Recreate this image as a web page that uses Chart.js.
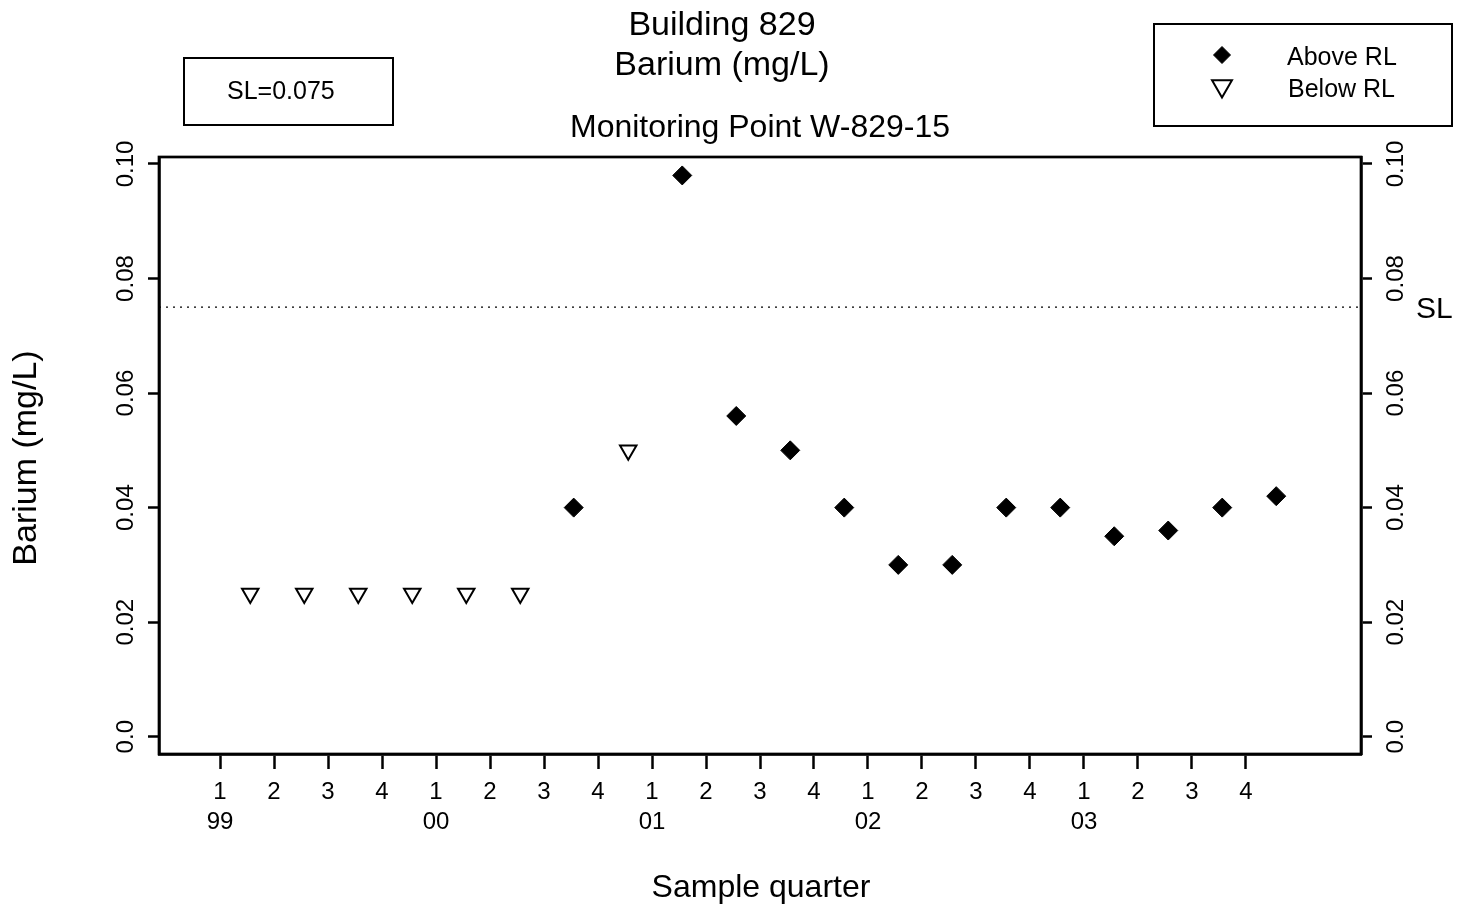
<!DOCTYPE html>
<html>
<head>
<meta charset="utf-8">
<title>Building 829 - Barium (mg/L)</title>
<script src="https://cdn.jsdelivr.net/npm/chart.js@4.4.0/dist/chart.umd.min.js"></script>
<style>
  html, body { margin: 0; padding: 0; background: #fff; }
  canvas { display: block; }
</style>
</head>
<body>
<canvas id="chart" width="1469" height="915"></canvas>
<script>
// x positions are in quarters, 0 = first quarter of 1999
const aboveX = [6.55, 8.56, 9.56, 10.56, 11.56, 12.56, 13.56, 14.56, 15.56, 16.56, 17.56, 18.56, 19.56];
const aboveValues = [0.040, 0.098, 0.056, 0.050, 0.040, 0.030, 0.030, 0.040, 0.040, 0.035, 0.036, 0.040, 0.042];
const belowX = [0.56, 1.56, 2.56, 3.56, 4.56, 5.56, 7.56];
const belowValues = [0.025, 0.025, 0.025, 0.025, 0.025, 0.025, 0.050];

const quarterTicks = [0, 1, 2, 3, 4, 5, 6, 7, 8, 9, 10, 11, 12, 13, 14, 15, 16, 17, 18, 19];
const quarterLabels = ['1', '2', '3', '4', '1', '2', '3', '4', '1', '2', '3', '4', '1', '2', '3', '4', '1', '2', '3', '4'];
const yearLabels = ['99', '', '', '', '00', '', '', '', '01', '', '', '', '02', '', '', '', '03', '', '', ''];
const yTicks = [0, 0.02, 0.04, 0.06, 0.08, 0.10];
const yTickLabels = ['0.0', '0.02', '0.04', '0.06', '0.08', '0.10'];
const slValue = 0.075;

const FONT = "'Liberation Sans', Arial, Helvetica, sans-serif";
function font(size) { return size + 'px ' + FONT; }

function rotatedText(ctx, text, x, y) {
    ctx.save();
    ctx.translate(x, y);
    ctx.rotate(-Math.PI / 2);
    ctx.fillText(text, 0, 0);
    ctx.restore();
}

function marker(ctx, ds, x, y, radius) {
    ctx.save();
    ctx.fillStyle = ds.pointBackgroundColor;
    ctx.strokeStyle = ds.pointBorderColor;
    ctx.lineWidth = ds.pointBorderWidth;
    Chart.helpers.drawPoint(ctx, {
        pointStyle: ds.pointStyle,
        rotation: ds.pointRotation,
        radius: radius,
        borderWidth: ds.pointBorderWidth
    }, x, y);
    ctx.restore();
}

const decorations = {
    id: 'decorations',
    beforeDatasetsDraw(chart) {
        const ctx = chart.ctx;
        const area = chart.chartArea;
        const py = chart.scales.y.getPixelForValue(slValue);
        ctx.save();
        ctx.strokeStyle = '#000';
        ctx.lineWidth = 1.2;
        ctx.setLineDash([2, 5]);
        ctx.beginPath();
        ctx.moveTo(area.left, py);
        ctx.lineTo(area.right, py);
        ctx.stroke();
        ctx.restore();
    },
    afterDraw(chart) {
        const ctx = chart.ctx;
        const area = chart.chartArea;
        const y = chart.scales.y;
        ctx.save();

        // plot frame
        ctx.strokeStyle = '#000';
        ctx.lineWidth = 2.7;
        ctx.strokeRect(area.left, area.top, area.right - area.left, area.bottom - area.top);

        ctx.fillStyle = '#000';

        // y tick labels, both sides, rotated
        ctx.font = font(24);
        ctx.textAlign = 'center';
        ctx.textBaseline = 'alphabetic';
        y.ticks.forEach((t, i) => {
            const py = y.getPixelForValue(t.value);
            rotatedText(ctx, yTickLabels[i], area.left - 26, py);
            rotatedText(ctx, yTickLabels[i], area.right + 42, py);
        });

        // titles
        ctx.font = font(34);
        ctx.fillText('Building 829', 722, 35);
        ctx.fillText('Barium (mg/L)', 722, 75);
        rotatedText(ctx, 'Barium (mg/L)', 36, 458);
        ctx.font = font(32);
        ctx.fillText('Monitoring Point W-829-15', 760, 137);
        ctx.fillText('Sample quarter', 761, 897);

        // SL label at the limit line
        ctx.font = font(30);
        ctx.textAlign = 'left';
        ctx.fillText('SL', area.right + 55, y.getPixelForValue(slValue) + 11);

        // SL box
        ctx.lineWidth = 2;
        ctx.strokeRect(184, 58, 209, 67);
        ctx.font = font(25);
        ctx.fillText('SL=' + slValue, 227, 99);

        // legend box
        ctx.strokeRect(1154, 24, 298, 102);
        const ds = chart.data.datasets;
        marker(ctx, ds[0], 1222, 55, 8.5);
        marker(ctx, ds[1], 1222, 86, 11.5);
        ctx.fillStyle = '#000';
        ctx.font = font(25);
        ctx.textAlign = 'left';
        ctx.fillText(ds[0].label, 1287, 65);
        ctx.fillText(ds[1].label, 1288, 97);

        ctx.restore();
    }
};

new Chart(document.getElementById('chart'), {
    type: 'scatter',
    data: {
        datasets: [
            {
                label: 'Above RL',
                data: aboveX.map((x, i) => ({ x: x, y: aboveValues[i] })),
                pointStyle: 'rectRot',
                pointRadius: 9.5,
                pointBackgroundColor: '#000',
                pointBorderColor: '#000',
                pointBorderWidth: 1,
                pointRotation: 0
            },
            {
                label: 'Below RL',
                data: belowX.map((x, i) => ({ x: x, y: belowValues[i] })),
                pointStyle: 'triangle',
                pointRotation: 180,
                pointRadius: 9.5,
                pointBackgroundColor: '#fff',
                pointBorderColor: '#000',
                pointBorderWidth: 2
            }
        ]
    },
    options: {
        responsive: false,
        animation: false,
        events: [],
        layout: { padding: { top: 157, left: 0, right: 0, bottom: 0 } },
        plugins: {
            legend: { display: false },
            tooltip: { enabled: false }
        },
        scales: {
            x: {
                type: 'linear',
                position: 'bottom',
                min: -1.13,
                max: 21.13,
                afterBuildTicks: scale => { scale.ticks = quarterTicks.map(v => ({ value: v })); },
                afterFit: scale => { scale.height = 161; },
                border: { display: true, color: '#000', width: 2.7 },
                grid: { drawOnChartArea: false, drawTicks: true, tickLength: 15, tickWidth: 2.5, tickColor: '#000' },
                ticks: {
                    autoSkip: false,
                    maxRotation: 0,
                    padding: 8.5,
                    color: '#000',
                    font: { family: FONT, size: 24, lineHeight: 1.25 },
                    callback: value => [quarterLabels[value], yearLabels[value]]
                }
            },
            y: {
                type: 'linear',
                position: 'left',
                min: -0.00302,
                max: 0.10122,
                afterBuildTicks: scale => { scale.ticks = yTicks.map(v => ({ value: v })); },
                afterFit: scale => { scale.width = 159; },
                border: { display: true, color: '#000', width: 2.7 },
                grid: { drawOnChartArea: false, drawTicks: true, tickLength: 11, tickWidth: 2.5, tickColor: '#000' },
                ticks: { display: false }
            },
            y2: {
                type: 'linear',
                position: 'right',
                min: -0.00302,
                max: 0.10122,
                afterBuildTicks: scale => { scale.ticks = yTicks.map(v => ({ value: v })); },
                afterFit: scale => { scale.width = 108; },
                border: { display: true, color: '#000', width: 2.7 },
                grid: { drawOnChartArea: false, drawTicks: true, tickLength: 11, tickWidth: 2.5, tickColor: '#000' },
                ticks: { display: false }
            }
        }
    },
    plugins: [decorations]
});
</script>
</body>
</html>
